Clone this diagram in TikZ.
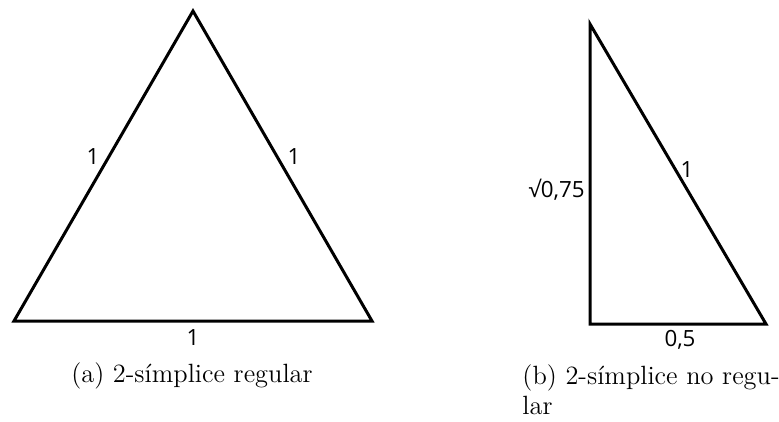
\documentclass[tikz,border=0pt]{standalone}
\usepackage{fontspec}
\newfontfamily\lblfont{Open Sans}
\begin{document}
\begin{tikzpicture}[x=0.4167pt,y=-0.4167pt,
  edge/.style={line width=1.25pt,line join=miter},
  lbl/.style={font=\lblfont\fontsize{9.3}{10}\selectfont,inner sep=0pt},
  captxt/.style={font=\fontsize{11}{12.5}\selectfont,inner sep=0pt}]
\useasboundingbox (0,0) rectangle (779,421);
\coordinate (A1) at (14,321);
\coordinate (A2) at (372,321);
\coordinate (A3) at (193,11);
\draw[edge] (A1) -- (A2) -- (A3) -- cycle;
\coordinate (B1) at (590,24);
\coordinate (B2) at (590,324);
\coordinate (B3) at (766,324);
\draw[edge] (B1) -- (B2) -- (B3) -- cycle;
\node[lbl] (la) at (93,157) {1};
\node[lbl] (lb) at (294,157) {1};
\node[lbl] (lc) at (193,338) {1};
\node[lbl,anchor=east] (ld) at (585,190) {√0,75};
\node[lbl] (le) at (687,170) {1};
\node[lbl] (lf) at (680,340) {0,5};
\node[captxt] (ca) at (192,376) {(a) 2-símplice regular};
\node[captxt,anchor=north west,align=left] (cb) at (522,364) {(b) 2-símplice no regu-\\lar};
\end{tikzpicture}
\end{document}
